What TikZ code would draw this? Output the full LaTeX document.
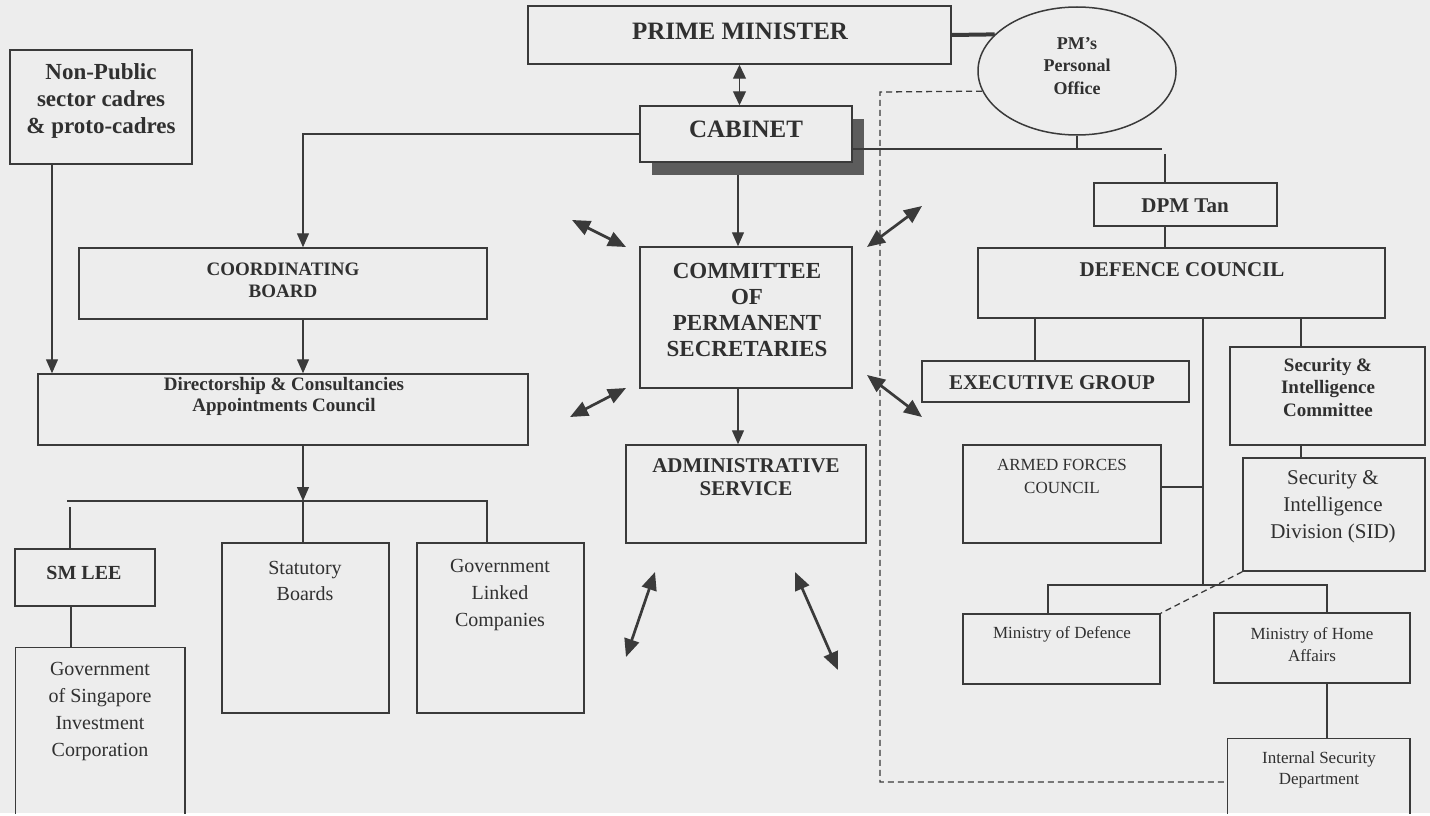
\documentclass[tikz,border=0pt]{standalone}
\usepackage{fontspec}
\setmainfont{Liberation Serif}
\usetikzlibrary{arrows.meta,shapes.geometric}

\definecolor{bgc}{RGB}{237,237,237}
\definecolor{ink}{RGB}{58,58,58}
\definecolor{txt}{RGB}{48,48,48}
\definecolor{shadowgray}{RGB}{92,92,92}

% font size helper
\newcommand\orgfs[2]{\fontsize{#1}{#2}\selectfont}
% rectangle node from its corner coordinates: [options]{name}{x1}{y1}{x2}{y2}
\newcommand\orgbox[6][]{\node[box,#1,minimum width={#5-#3},minimum height={#6-#4}] (#2) at ({(#3+#5)/2},{(#4+#6)/2}) {};}

\tikzset{
  box/.style={draw=ink, line width=1.5pt, fill=bgc, inner sep=0pt, rectangle},
  lbl/.style={inner sep=0pt, align=center, text=txt},
  conn/.style={draw=ink, line width=1.3pt},
  arr/.style={conn, -{Triangle[length=14pt,width=12pt]}},
  dbl/.style={conn, {Triangle[length=14pt,width=13pt]}-{Triangle[length=14pt,width=13pt]}},
  link/.style={draw=ink, line width=2.7pt, {Triangle[length=18pt,width=15pt]}-{Triangle[length=18pt,width=15pt]}},
  dsh/.style={draw=ink, line width=1.3pt, dash pattern=on 6pt off 4pt},
}

\begin{document}
\begin{tikzpicture}[x=1pt,y=-1pt]
\useasboundingbox (0,0) rectangle (1430,816);
\fill[bgc] (0,0) rectangle (1430,813);

% ---------- boxes ----------
\orgbox{pm}{528}{6}{951}{64}
\node[ellipse, draw=ink, line width=1.5pt, fill=bgc, minimum width=198pt, minimum height=128pt, inner sep=0pt] (pmo) at (1077,71) {};
% cabinet with its drop shadow
\fill[shadowgray] (652,119) rectangle (864,175);
\orgbox{cab}{640}{106}{852}{162}
\orgbox{npub}{10}{50}{192}{164}
\orgbox{cb}{79}{248}{487}{319}
\orgbox{dcac}{38}{374}{528}{445}
\orgbox{cops}{640}{247}{852}{388}
\orgbox{admin}{626}{445}{866}{543}
\orgbox{dpm}{1094}{183}{1277}{226}
\orgbox{dc}{978}{248}{1385}{318}
\orgbox{eg}{922}{361}{1189}{402}
\orgbox{sic}{1230}{347}{1425}{445}
\orgbox{afc}{963}{445}{1161}{543}
\orgbox{sid}{1243}{458}{1425}{571}
\orgbox{mod}{963}{614}{1160}{684}
\orgbox{mha}{1214}{613}{1410}{683}
\orgbox[draw=none]{isd}{1228}{739}{1409}{813}
\orgbox{smlee}{15}{549}{155}{606}
\orgbox[draw=none]{gsic}{16}{648}{184}{813}
\orgbox{sb}{222}{543}{389}{713}
\orgbox{glc}{417}{543}{584}{713}

% boxes running off the lower edge
\draw[conn, line width=1.5pt] (isd.south west) |- (isd.north east) -- (isd.south east);
\draw[conn, line width=1.5pt] (gsic.south west) |- (gsic.north east) -- (gsic.south east);

% ---------- junction points ----------
\coordinate (jR) at (1162,149);
\coordinate (jD) at (1165,154);
\coordinate (busL) at (67,501);
\coordinate (busM) at (303,501);
\coordinate (busR) at (487,501);
\coordinate (smtop) at (70,507);
\coordinate (vEG) at (1035,318);
\coordinate (vSIC) at (1301,318);
\coordinate (busD) at (1203,585);
\coordinate (busDL) at (1048,585);
\coordinate (busDR) at (1327,585);
\coordinate (dTop) at (880,92);
\coordinate (dBot) at (880,782);

% ---------- connectors ----------
\draw[dbl] (pm.south) -- (pm.south |- cab.north);
\draw[draw=ink, line width=4pt] (pm.east) -- (pmo.156);

\draw[arr] (cab.west) -| ([xshift=20pt]cb.north);
\draw[arr] ([xshift=-8pt]cops.north |- 0,175) -- ([xshift=-8pt]cops.north);
\draw[arr] ([xshift=-8pt]cops.south) -- ([xshift=-8pt]cops.south |- admin.north);

\draw[conn] (cab.east |- jR) -- (jR);
\draw[conn] (pmo.south) -- (pmo.south |- jR);
\draw[conn] (jD) -- (jD |- dpm.north);
\draw[conn] (jD |- dpm.south) -- (jD |- dc.north);

\draw[arr] ([xshift=-49pt]npub.south) -- ([xshift=-49pt]npub.south |- dcac.north);
\draw[arr] ([xshift=20pt]cb.south) -- ([xshift=20pt]cb.south |- dcac.north);
\draw[arr] ([xshift=20pt]dcac.south) -- (busM);
\draw[conn] (busL) -- (busR) -- (busR |- glc.north);
\draw[conn] (busM) -- (busM |- sb.north);
\draw[conn] (smtop) -- (smtop |- smlee.north);
\draw[conn] ([xshift=-14pt]smlee.south) -- ([xshift=-14pt]smlee.south |- gsic.north);

\draw[conn] (vEG |- dc.south) -- (vEG |- eg.north);
\draw[conn] (vSIC |- dc.south) -- (vSIC |- sic.north);
\draw[conn] (vSIC |- sic.south) -- (vSIC |- sid.north);
\draw[conn] (busD |- dc.south) -- (busD);
\draw[conn] ([yshift=7pt]afc.east) -- ([yshift=7pt]afc.east -| busD);
\draw[conn] (busDL |- mod.north) -- (busDL) -- (busDR) -- (busDR |- mha.north);
\draw[conn] (busDR |- mha.south) -- (busDR |- isd.north);

\draw[dsh] (sid.south west) -- (mod.north east);
\draw[dsh] (pmo.192) -- (dTop) -- (dBot) -- (dBot -| isd.west);

% ---------- two-way links around the committee ----------
\coordinate (l1a) at (572,220); \coordinate (l1b) at (626,247);
\coordinate (l2a) at (570,417); \coordinate (l2b) at (626,388);
\coordinate (r1a) at (867,247); \coordinate (r1b) at (922,206);
\coordinate (r2a) at (867,375); \coordinate (r2b) at (922,417);
\coordinate (b1a) at (655,572); \coordinate (b1b) at (626,657);
\coordinate (b2a) at (795,572); \coordinate (b2b) at (838,670);
\draw[link] (l1a) -- (l1b);
\draw[link] (l2a) -- (l2b);
\draw[link] (r1a) -- (r1b);
\draw[link] (r2a) -- (r2b);
\draw[link] (b1a) -- (b1b);
\draw[link] (b2a) -- (b2b);

% ---------- texts ----------
\node[lbl, font=\bfseries\orgfs{25}{28}] (pm-t) at (740,31) {PRIME MINISTER};
\node[lbl, font=\bfseries\orgfs{25}{28}] (cab-t) at (746,129) {CABINET};
\node[lbl, font=\bfseries\orgfs{18}{22.5}] (pmo-t) at (1077,66) {PM's\\Personal\\Office};
\node[lbl, font=\bfseries\orgfs{23}{27}] (npub-t) at (101,101) {Non-Public\\sector cadres\\\& proto-cadres};
\node[lbl, font=\bfseries\orgfs{19}{22}] (cb-t) at (283,280) {COORDINATING\\BOARD};
\node[lbl, font=\bfseries\orgfs{19}{21}] (dcac-t) at (284,396) {Directorship \& Consultancies\\Appointments Council};
\node[lbl, font=\bfseries\orgfs{23}{26.3}] (cops-t) at (747,310) {COMMITTEE\\OF\\PERMANENT\\SECRETARIES};
\node[lbl, font=\bfseries\orgfs{21}{23}] (admin-t) at (746,477) {ADMINISTRATIVE\\SERVICE};
\node[lbl, font=\bfseries\orgfs{21}{24}] (dpm-t) at (1185,206) {DPM Tan};
\node[lbl, font=\bfseries\orgfs{21}{24}] (dc-t) at (1182,270) {DEFENCE COUNCIL};
\node[lbl, font=\bfseries\orgfs{21}{24}] (eg-t) at (1052,383) {EXECUTIVE GROUP};
\node[lbl, font=\bfseries\orgfs{19}{22.5}] (sic-t) at (1328,387) {Security \&\\Intelligence\\Committee};
\node[lbl, font=\orgfs{17}{23}] (afc-t) at (1062,476) {ARMED FORCES\\COUNCIL};
\node[lbl, font=\orgfs{21}{27}] (sid-t) at (1333,507) {Security \&\\Intelligence\\Division (SID)};
\node[lbl, font=\orgfs{17}{22}] (mod-t) at (1062,634) {Ministry of Defence};
\node[lbl, font=\orgfs{17}{22}] (mha-t) at (1312,645) {Ministry of Home\\Affairs};
\node[lbl, font=\orgfs{17}{21}] (isd-t) at (1319,770) {Internal Security\\Department};
\node[lbl, font=\bfseries\orgfs{20}{24}] (smlee-t) at (84,573) {SM LEE};
\node[lbl, font=\orgfs{20}{27}] (gsic-t) at (100,711) {Government\\of Singapore\\Investment\\Corporation};
\node[lbl, font=\orgfs{20}{26}] (sb-t) at (305,581) {Statutory\\Boards};
\node[lbl, font=\orgfs{20}{27}] (glc-t) at (500,595) {Government\\Linked\\Companies};
\end{tikzpicture}
\end{document}
